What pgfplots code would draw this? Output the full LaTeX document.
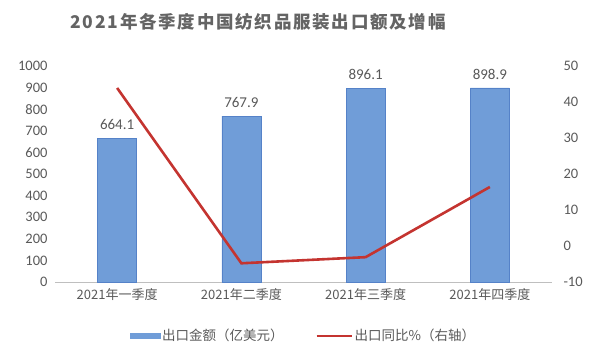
\documentclass[border=0pt]{standalone}
\usepackage{pgfplots}
\pgfplotsset{compat=1.18}
\usepackage{fontspec}
\setmainfont{Carlito}
\newfontfamily\cjk{Noto Sans CJK SC}
\newfontfamily\cjktitle[LetterSpace=10]{Noto Sans CJK SC}
\definecolor{txt}{RGB}{89,89,89}
\definecolor{titletxt}{RGB}{100,100,100}
\definecolor{barblue}{RGB}{112,157,216}
\definecolor{baredge}{RGB}{85,130,200}
\definecolor{linered}{RGB}{196,52,48}
\definecolor{axisgray}{RGB}{191,191,191}
\begin{document}
\begin{tikzpicture}[x=1pt,y=1pt]
\path[use as bounding box] (0,0) rectangle (600,360);
\node[text=titletxt,font=\cjktitle\fontsize{17.5}{20}\selectfont\bfseries] at (258,338) {2021年各季度中国纺织品服装出口额及增幅};
\begin{axis}[
  at={(55pt,78pt)}, anchor=south west,
  width=497pt, height=216pt, scale only axis,
  xmin=-0.5, xmax=3.5, ymin=0, ymax=1000,
  ytick={0,100,...,1000},
  xtick={0,1,2,3},
  xticklabels={2021年一季度,2021年二季度,2021年三季度,2021年四季度},
  x tick label style={font=\cjk\fontsize{13}{15}\selectfont, text=txt},
  y tick label style={font=\fontsize{14.5}{16}\selectfont, text=txt},
  /pgf/number format/assume math mode=true,
  /pgf/number format/1000 sep={},
  axis y line*=left, axis x line*=bottom,
  y axis line style={draw=none},
  x axis line style={draw=axisgray, line width=0.8pt, -},
  major tick length=0pt,
  yticklabel style={xshift=-4pt},
  xticklabel style={yshift=-3pt},
  clip=false,
]
\addplot[ybar, bar width=39pt, fill=barblue, draw=baredge,
  nodes near coords, nodes near coords style={font=\fontsize{15}{17}\selectfont, text=txt, yshift=5pt},
  point meta=explicit symbolic]
  coordinates {(0,664.1)[664.1] (1,767.9)[767.9] (2,896.1)[896.1] (3,898.9)[898.9]};
\end{axis}
\begin{axis}[
  at={(55pt,78pt)}, anchor=south west,
  width=497pt, height=216pt, scale only axis,
  xmin=-0.5, xmax=3.5, ymin=-10, ymax=50,
  ytick={-10,0,...,50},
  axis y line*=right, axis x line=none,
  y axis line style={draw=none},
  major tick length=0pt,
  y tick label style={font=\fontsize{14.5}{16}\selectfont, text=txt},
  /pgf/number format/assume math mode=true,
  yticklabel style={xshift=8pt},
  clip=false,
  legend style={at={(0.5,-0.2)}, anchor=north, draw=none, fill=none,
    font=\cjk\fontsize{13.5}{15}\selectfont, text=txt, /tikz/every even column/.append style={column sep=30pt}},
  legend columns=2,
]
\addlegendimage{legend image code/.code={\fill[barblue] (0pt,-2.5pt) rectangle (30pt,2.5pt);}}
\addlegendentry{出口金额（亿美元）}
\addplot[linered, line width=2.6pt, mark=none, legend image code/.code={\draw[linered, line width=2pt] (0pt,0pt) -- (35pt,0pt);}] coordinates {(0,43.9) (1,-4.8) (2,-3.1) (3,16.4)};
\addlegendentry{出口同比\%（右轴）}
\end{axis}
\end{tikzpicture}
\end{document}
